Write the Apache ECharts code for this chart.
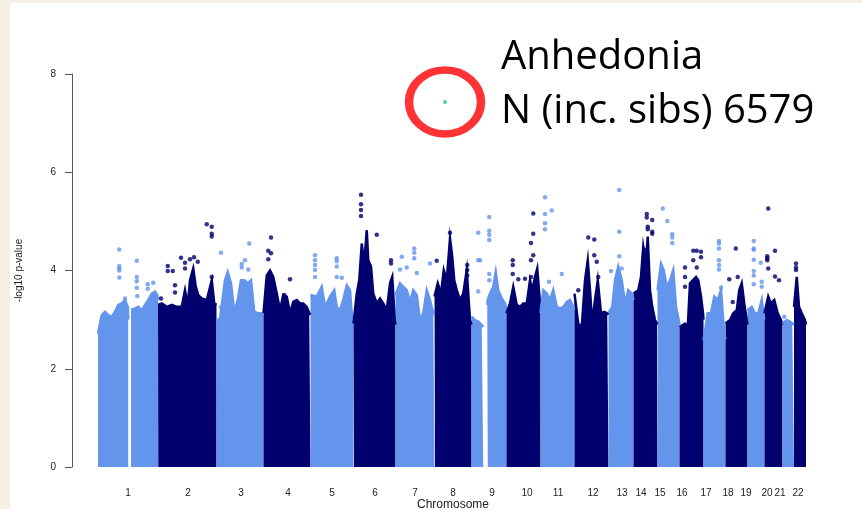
<!DOCTYPE html>
<html><head><meta charset="utf-8">
<script src="https://cdn.jsdelivr.net/npm/echarts@6/dist/echarts.min.js"></script>
<style>
html,body{margin:0;padding:0;background:#f4f0e4;overflow:hidden;}
#panel{position:absolute;left:10px;top:3px;width:852px;height:506px;background:#fff;}
#chart{position:absolute;left:0;top:0;width:862px;height:509px;}
</style></head><body><div id="panel"></div><div id="chart"></div>
<script>
// ---- data ----
const chromosomes = ['1','2','3','4','5','6','7','8','9','10','11','12','13','14','15','16','17','18','19','20','21','22'];
// plotted length of each chromosome (Mb)
const chrLengthMb = [240,234,188,188,172,168,156,148,140,136,136,136,100,96,88,96,88,88,68,72,46,48];
// cumulative genome position (Mb) of each chromosome tick label
const tickPositionsMb = [120,360,572,760,936,1108,1268,1420,1576,1716,1840,1980,2096,2172,2248,2336,2432,2520,2592,2676,2728,2800];
const yTicks = [0,2,4,6,8];

// upper edge of the dense SNP cloud per chromosome: [position within chromosome (Mb), -log10 p]; null = gap
const chr1Dense  = [[0,2.72],[4,2.72],[15,3.09],[28,3.16],[41,3.09],[55,3.06],[68,3.16],[81,3.3],[95,3.33],[108,3.4],[119,3.26],[121,3.0],[121,null],[132,3.2],[135,3.23],[148,3.23],[161,3.26],[175,3.19],[188,3.3],[201,3.4],[215,3.53],[228,3.57],[237,3.5],[240,3.4]];
const chr2Dense  = [[0,3.3],[1,3.3],[15,3.33],[35,3.26],[55,3.3],[75,3.26],[95,3.26],[108,3.6],[119,3.3],[128,3.8],[141,4.04],[151,3.67],[161,3.5],[175,3.43],[195,3.4],[215,3.8],[225,3.33],[234,3.3]];
const chr3Dense  = [[0,2.99],[1,2.99],[14,3.02],[34,3.8],[45,3.97],[58,3.74],[71,3.16],[85,3.4],[98,3.8],[111,3.8],[125,3.74],[138,3.8],[151,3.16],[165,3.13],[178,3.13],[188,3.1]];
const chr4Dense  = [[0,3.13],[3,3.13],[13,3.9],[26,4.0],[39,3.87],[53,3.53],[66,3.19],[79,3.5],[93,3.47],[106,3.13],[119,3.36],[133,3.4],[146,3.33],[159,3.33],[173,3.26],[183,3.13],[188,3.1]];
const chr5Dense  = [[0,3.5],[5,3.5],[25,3.47],[45,3.67],[58,3.26],[78,3.47],[95,3.6],[105,3.26],[118,3.19],[131,3.4],[145,3.7],[158,3.6],[167,2.99],[172,2.9]];
const chr6Dense  = [[0,2.92],[2,2.92],[13,3.53],[23,3.8],[33,4.55],[43,4.14],[53,4.82],[59,4.21],[70,4.08],[79,3.53],[93,3.33],[106,3.43],[119,3.33],[133,3.19],[146,3.74],[155,3.87],[165,2.99],[168,2.9]];
const chr7Dense  = [[0,3.5],[5,3.53],[18,3.74],[31,3.67],[45,3.6],[58,3.36],[71,3.6],[85,3.5],[98,2.99],[111,3.13],[125,3.6],[138,3.4],[151,3.13],[156,3.1]];
const chr8Dense  = [[0,3.47],[2,3.47],[13,3.74],[26,3.53],[37,4.01],[49,3.8],[62,4.65],[71,4.28],[79,3.8],[89,3.6],[102,3.4],[115,3.53],[129,4.01],[142,2.99],[148,2.9]];
const chr9Dense  = [[0,3.06],[1,3.06],[14,2.99],[27,2.96],[41,2.89],[47,2.85],[47,null],[63,3.3],[65,3.4],[74,3.53],[87,3.67],[97,3.97],[107,3.6],[121,3.43],[134,3.33],[140,3.2]];
const chr10Dense = [[0,3.13],[5,3.13],[14,3.33],[27,3.67],[41,3.3],[54,3.26],[67,3.33],[81,3.33],[94,3.8],[103,3.6],[114,3.87],[123,4.04],[133,3.4],[136,3.3]];
const chr11Dense = [[0,3.13],[2,3.13],[11,3.6],[25,3.53],[38,3.4],[51,3.6],[65,3.26],[78,3.23],[91,3.26],[105,3.36],[118,3.4],[131,3.26],[136,3.2]];
const chr12Dense = [[0,3.53],[6,3.53],[15,2.92],[29,2.85],[42,3.8],[53,4.21],[62,3.6],[71,2.92],[82,3.4],[93,3.8],[106,3.13],[119,3.16],[131,3.13],[136,3.1]];
const chr13Dense = [[0,3.13],[5,3.13],[15,3.26],[26,3.8],[39,4.08],[53,3.8],[66,3.33],[79,3.6],[93,3.53],[100,3.4]];
const chr14Dense = [[0,3.53],[6,3.53],[19,3.6],[30,3.87],[39,4.48],[49,4.14],[57,4.69],[66,3.6],[75,3.26],[86,2.99],[94,2.92],[96,2.9]];
const chr15Dense = [[0,3.6],[3,3.6],[14,4.14],[25,4.01],[37,3.67],[50,3.8],[63,4.01],[74,3.26],[85,2.99],[88,2.9]];
const chr16Dense = [[0,2.85],[6,2.85],[22,2.92],[33,2.85],[42,3.74],[53,3.8],[66,3.87],[75,3.8],[86,3.47],[94,3.13],[96,3.0]];
const chr17Dense = [[0,2.58],[6,2.58],[17,3.13],[30,3.13],[43,3.47],[57,3.4],[70,3.6],[83,2.72],[88,2.6]];
const chr18Dense = [[0,2.92],[5,2.92],[18,2.99],[31,3.13],[45,3.19],[55,3.6],[65,3.74],[75,3.33],[85,2.99],[88,2.9]];
const chr19Dense = [[0,3.19],[3,3.19],[17,3.26],[30,3.13],[43,3.13],[57,3.4],[65,3.06],[68,3.0]];
const chr20Dense = [[0,3.13],[5,3.13],[15,3.47],[26,3.33],[39,3.4],[53,3.13],[66,2.99],[72,2.9]];
const chr21Dense = [[0,2.92],[3,2.92],[17,2.99],[30,2.96],[39,2.92],[46,2.9]];
const chr22Dense = [[0,3.26],[4,3.26],[11,3.87],[20,3.26],[31,3.13],[44,2.99],[48,2.9]];

// individual SNPs above the dense cloud: [position within chromosome (Mb), -log10 p]
const chr1Top  = [[85,4.43],[85,4.09],[85,4.04],[85,4.0],[85,3.86],[108,3.43],[155,4.2],[155,3.87],[155,3.78],[155,3.65],[157,3.48],[199,3.72],[199,3.63],[221,3.75]];
const chr2Top  = [[12,3.43],[39,4.09],[59,3.99],[39,3.99],[68,3.7],[68,3.55],[92,4.26],[108,4.16],[108,4.04],[128,4.23],[144,4.27],[159,4.18],[195,4.94],[215,4.89],[215,4.75],[215,4.69],[215,3.87]];
const chr3Top  = [[18,4.36],[18,3.25],[101,4.13],[101,4.06],[114,4.21],[131,4.55],[127,4.02]];
const chr4Top  = [[30,4.67],[19,4.4],[30,4.35],[19,4.23],[106,3.82],[83,3.5],[83,3.43]];
const chr5Top  = [[18,4.31],[18,4.21],[18,4.11],[18,4.01],[18,3.87],[105,4.25],[105,4.19],[105,4.08],[105,3.87],[125,3.85]];
const chr6Top  = [[30,5.54],[30,5.35],[30,5.23],[30,5.11],[93,4.73],[150,4.21],[150,4.14]];
const chr7Top  = [[25,4.28],[18,4.02],[45,4.06],[75,4.45],[75,4.36],[75,4.25],[85,3.95],[138,4.14]];
const chr8Top  = [[9,4.2],[62,4.77],[131,4.11],[131,4.01],[131,3.9]];
const chr9Top  = [[27,4.77],[27,4.21],[34,4.21],[27,3.57],[71,5.09],[71,4.81],[71,4.73],[71,4.62],[71,3.93],[71,3.8]];
const chr10Top = [[25,4.21],[25,4.11],[25,3.93],[47,3.82],[74,3.83],[107,5.16],[107,4.75],[98,4.56],[107,4.31],[98,4.21],[98,3.87]];
const chr11Top = [[18,5.49],[18,5.15],[18,4.96],[18,4.84],[45,5.22],[85,3.93],[34,3.77]];
const chr12Top = [[55,4.67],[79,4.63],[79,4.31],[89,4.18],[95,3.87],[15,3.6]];
const chr13Top = [[43,5.64],[43,4.79],[43,4.29],[10,3.99],[53,4.04]];
const chr14Top = [[53,5.15],[53,5.08],[75,5.03],[75,4.79],[75,4.75],[46,4.42],[57,4.89],[57,4.84]];
const chr15Top = [[21,5.26],[39,5.01],[59,4.74],[59,4.67],[59,4.56]];
const chr16Top = [[22,4.06],[22,3.87],[22,3.67],[55,4.4],[55,4.21],[69,4.4],[86,4.38],[86,4.27],[69,4.06]];
const chr17Top = [[62,4.6],[62,4.55],[62,4.45],[62,4.21],[62,4.11],[62,4.02],[70,3.65]];
const chr18Top = [[15,3.82],[41,4.45],[49,3.87],[29,3.36]];
const chr19Top = [[25,4.6],[25,4.45],[25,4.42],[25,4.22],[25,3.99],[25,3.9],[25,3.72],[53,4.16],[57,3.77],[57,3.67]];
const chr20Top = [[15,5.26],[11,4.29],[11,4.25],[11,4.21],[42,4.4],[42,3.88],[58,3.8],[15,4.04]];
const chr21Top = [[7,3.06]];
const chr22Top = [[8,4.14],[8,4.06],[8,4.01]];

// highlighted genome-wide hit (chromosome 8)
const hitChromosome = '8';
const hitPoint = [42, 7.43];

const titleLines = ['Anhedonia', 'N (inc. sibs) 6579'];

// ---- build ----
const denseAll = [chr1Dense,chr2Dense,chr3Dense,chr4Dense,chr5Dense,chr6Dense,chr7Dense,chr8Dense,chr9Dense,chr10Dense,chr11Dense,chr12Dense,chr13Dense,chr14Dense,chr15Dense,chr16Dense,chr17Dense,chr18Dense,chr19Dense,chr20Dense,chr21Dense,chr22Dense];
const topAll = [chr1Top,chr2Top,chr3Top,chr4Top,chr5Top,chr6Top,chr7Top,chr8Top,chr9Top,chr10Top,chr11Top,chr12Top,chr13Top,chr14Top,chr15Top,chr16Top,chr17Top,chr18Top,chr19Top,chr20Top,chr21Top,chr22Top];
const LIGHT = '#6495ed', DARK = '#00006e';
const offsets = [];
let acc = 0;
chrLengthMb.forEach(l => { offsets.push(acc); acc += l; });

const series = [];
denseAll.forEach((arr, i) => {
  const col = i % 2 === 0 ? LIGHT : DARK;
  let seg = [];
  const segs = [];
  arr.forEach(p => {
    if (p[1] === null) { if (seg.length) segs.push(seg); seg = []; }
    else seg.push([offsets[i] + p[0], p[1]]);
  });
  if (seg.length) segs.push(seg);
  segs.forEach(s => series.push({
    type: 'line', data: s, symbol: 'none', silent: true, z: 2, smooth: false,
    lineStyle: { color: col, width: 2.5, join: 'miter' },
    areaStyle: { color: col, opacity: 1 }
  }));
});
topAll.forEach((arr, i) => {
  const col = i % 2 === 0 ? LIGHT : DARK;
  series.push({
    type: 'scatter', data: arr.map(p => [offsets[i] + p[0], p[1]]),
    symbolSize: 4.5, itemStyle: { color: col }, silent: true, z: 3
  });
});
const hi = chromosomes.indexOf(hitChromosome);
series.push({
  type: 'scatter', data: [[offsets[hi] + hitPoint[0], hitPoint[1]]],
  symbolSize: 4, itemStyle: { color: '#1fd16b' }, silent: true, z: 5
});
series.push({
  type: 'scatter', data: [[offsets[hi] + hitPoint[0], hitPoint[1]]],
  symbol: 'circle', symbolSize: [72, 64],
  itemStyle: { color: 'rgba(0,0,0,0)', borderColor: '#ff0000', borderWidth: 8 },
  silent: true, z: 6
});

const chart = echarts.init(document.getElementById('chart'), null, { renderer: 'canvas' });
chart.setOption({
  animation: false,
  backgroundColor: 'transparent',
  grid: { left: 72, right: 28, top: 74, bottom: 42, containLabel: false, outerBoundsMode: 'none' },
  xAxis: {
    type: 'value', min: -104, max: 2944,
    name: 'Chromosome', nameLocation: 'middle', nameGap: 32, nameMoveOverlap: false,
    nameTextStyle: { fontFamily: 'Liberation Sans', fontSize: 12, color: '#222' },
    axisLine: { show: false, onZero: false }, axisTick: { show: false }, splitLine: { show: false },
    axisLabel: {
      customValues: tickPositionsMb, margin: 21,
      fontFamily: 'Liberation Sans', fontSize: 10, color: '#222',
      formatter: v => chromosomes[tickPositionsMb.indexOf(v)] || ''
    }
  },
  yAxis: {
    type: 'value', min: 0, max: 8, interval: 2,
    name: '-log10 p-value', nameLocation: 'middle', nameGap: 48, nameRotate: 90, nameMoveOverlap: false,
    nameTextStyle: { fontFamily: 'Liberation Sans', fontSize: 10, color: '#222' },
    axisLine: { show: true, onZero: false, lineStyle: { color: '#555', width: 1 } },
    axisTick: { show: true, length: 7, lineStyle: { color: '#555' } },
    splitLine: { show: false },
    axisLabel: { margin: 16, fontFamily: 'Liberation Sans', fontSize: 10, color: '#222',
      customValues: yTicks }
  },
  series: series,
  graphic: [
    { type: 'text', x: 501, y: 57.5, silent: true,
      style: { text: titleLines[0], font: '40px "Open Sans"', fill: '#000', verticalAlign: 'middle' } },
    { type: 'text', x: 501, y: 111.5, silent: true,
      style: { text: titleLines[1], font: '40px "Open Sans"', fill: '#000', verticalAlign: 'middle' } }
  ]
});
</script></body></html>
